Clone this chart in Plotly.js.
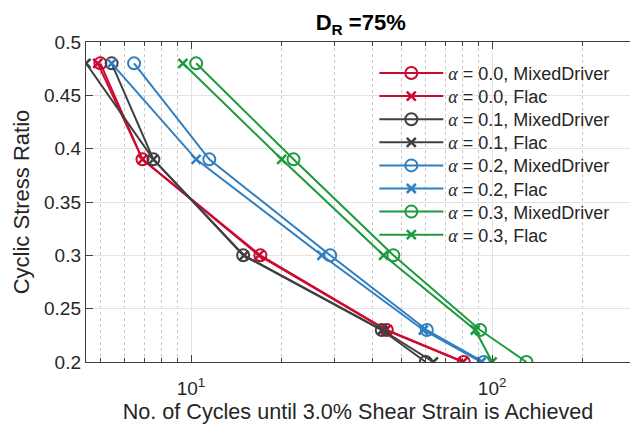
<!DOCTYPE html>
<html>
<head>
<meta charset="utf-8">
<script src="https://cdn.plot.ly/plotly-3.0.1.min.js"></script>
<style>html,body{margin:0;padding:0;background:#fff;}#chart{width:630px;height:429px;}</style>
</head>
<body>
<div id="chart"></div>
<script>
// Cyclic stress ratio levels
const csr = [0.48, 0.39, 0.30, 0.23, 0.20];
// Number of cycles until 3.0% shear strain, per alpha and method
const a00_mixed = [5.0, 6.9, 17.0, 44.7, 80.5];
const a00_flac  = [4.9, 6.9, 16.8, 44.4, 80.0];
const a01_mixed = [5.45, 7.5, 14.9, 43.0, 60.2];
const a01_flac  = [4.48, 7.5, 15.0, 43.2, 63.8];
const a02_mixed = [6.47, 11.5, 29.0, 60.7, 93.8];
const a02_flac  = [5.45, 10.4, 27.2, 59.1, 92.0];
const a03_mixed = [10.4, 21.9, 47.0, 91.2, 130.0];
const a03_flac  = [9.4, 20.0, 43.6, 87.9, 100.0];

const seriesAlpha = ['0.0', '0.0', '0.1', '0.1', '0.2', '0.2', '0.3', '0.3'];
const seriesMethods = ['MixedDriver', 'Flac', 'MixedDriver', 'Flac', 'MixedDriver', 'Flac', 'MixedDriver', 'Flac'];
const seriesData = [a00_mixed, a00_flac, a01_mixed, a01_flac, a02_mixed, a02_flac, a03_mixed, a03_flac];
const seriesColors = ['#CC0A2F', '#CC0A2F', '#404040', '#404040', '#2F7FC1', '#2F7FC1', '#1E9A3E', '#1E9A3E'];

const xMajorTicks = [10, 100];
const xMajorText = ['10<sup>1</sup>', '10<sup>2</sup>'];
const xMinorTicks = [5, 6, 7, 8, 9, 20, 30, 40, 50, 60, 70, 80, 90, 200];
const yTicks = [0.2, 0.25, 0.3, 0.35, 0.4, 0.45, 0.5];
const yTickText = ['0.2', '0.25', '0.3', '0.35', '0.4', '0.45', '0.5'];

// legend row layout (pixel rows from top of figure)
const legendRowTop = 73.3, legendRowStep = 23.1;
const plotTopPx = 42, plotBottomPx = 362;

const FONT = 'Liberation Sans, Arial, Helvetica, sans-serif';
const TXT = '#262626';

const legendKey = i => (i === 0 ? 'legend' : 'legend' + (i + 1));

const traces = seriesData.map((xs, i) => {
  const isMixed = seriesMethods[i] === 'MixedDriver';
  return {
    x: xs, y: csr, type: 'scatter', mode: 'lines+markers',
    name: '<span style="font-family:\'Liberation Serif\',\'DejaVu Serif\',serif"><i>α</i></span> = ' + seriesAlpha[i] + ', ' + seriesMethods[i],
    legend: legendKey(i),
    line: {color: seriesColors[i], width: 2},
    marker: isMixed
      ? {symbol: 'circle-open', size: 12, color: seriesColors[i], line: {width: 2, color: seriesColors[i]}}
      : {symbol: 'x-thin-open', size: 9, color: seriesColors[i], line: {width: 2.5, color: seriesColors[i]}},
    hoverinfo: 'x+y'
  };
});

const xmin = Math.log10(4.48), xmax = Math.log10(287);

const layout = {
  width: 630, height: 429,
  margin: {l: 86, r: 0, t: plotTopPx, b: 429 - plotBottomPx},
  paper_bgcolor: '#fff', plot_bgcolor: '#fff',
  font: {family: FONT, color: TXT, size: 19},
  title: {
    text: '<b>D<sub>R</sub> =75%</b>',
    font: {family: FONT, size: 22, color: '#000'},
    x: 0.505, xref: 'paper', xanchor: 'center',
    y: 0.948, yref: 'container', yanchor: 'middle'
  },
  xaxis: {
    type: 'log', range: [xmin, xmax],
    tickvals: xMajorTicks, ticktext: xMajorText,
    ticks: 'inside', ticklen: 7, tickwidth: 1, tickcolor: '#404040',
    ticklabelstandoff: 9,
    showline: true, linecolor: '#404040', linewidth: 1.2, mirror: 'allticks',
    showgrid: true, gridcolor: '#E3E3E3', gridwidth: 1,
    zeroline: false,
    tickfont: {family: FONT, size: 19, color: TXT},
    minor: {tickvals: xMinorTicks, ticks: 'inside', ticklen: 4, tickcolor: '#404040',
            showgrid: true, gridcolor: '#C8C8C8', griddash: 'dot', gridwidth: 1},
    title: {text: 'No. of Cycles until 3.0% Shear Strain is Achieved', font: {family: FONT, size: 21.6, color: TXT}, standoff: 4}
  },
  yaxis: {
    range: [0.2, 0.5],
    tickvals: yTicks, ticktext: yTickText,
    ticks: 'inside', ticklen: 7, tickwidth: 1, tickcolor: '#404040',
    showline: true, linecolor: '#404040', linewidth: 1.2, mirror: false,
    showgrid: true, gridcolor: '#E3E3E3', gridwidth: 1,
    zeroline: false,
    tickfont: {family: FONT, size: 19, color: TXT},
    title: {text: 'Cyclic Stress Ratio', font: {family: FONT, size: 22, color: TXT}, standoff: 8}
  },
  showlegend: true
};

seriesData.forEach((_, i) => {
  const yc = legendRowTop + i * legendRowStep;
  layout[legendKey(i)] = {
    x: 0.53, y: (plotBottomPx - yc) / (plotBottomPx - plotTopPx),
    xanchor: 'left', yanchor: 'middle',
    bgcolor: 'rgba(0,0,0,0)', borderwidth: 0,
    font: {family: FONT, size: 18, color: TXT},
    itemwidth: 64
  };
});

Plotly.newPlot('chart', traces, layout, {displayModeBar: false, staticPlot: true});
</script>
</body>
</html>
